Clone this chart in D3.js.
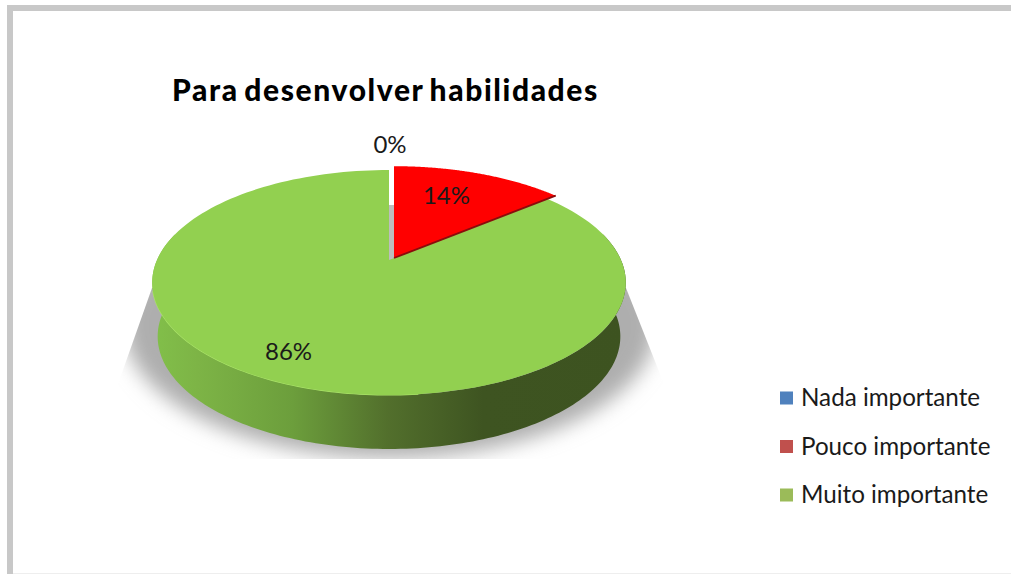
<!DOCTYPE html>
<html>
<head>
<meta charset="utf-8">
<style>
html,body{margin:0;padding:0;background:#fff;}
svg{display:block;}
text{font-family:Lato,"Open Sans",sans-serif;fill:#1a1a1a;}
</style>
<script src="https://cdn.jsdelivr.net/npm/d3@7/dist/d3.min.js"></script>
</head>
<body>
<svg id="chart" width="1011" height="574"></svg>
<script>
// Survey responses, in percent
const titleText = "Para desenvolver habilidades";
const categories = ["Nada importante", "Pouco importante", "Muito importante"];
const shares = [0, 14, 86];
const faceColors = ["#4F81BD", "#FF0000", "#92D050"];
const legendColors = ["#4F81BD", "#C0504D", "#9BBB59"];

const svg = d3.select("#chart");
const defs = svg.append("defs");

// Frame around the chart area
svg.append("rect").attr("x", 7).attr("y", 5).attr("width", 1004).attr("height", 6).attr("fill", "#c8c8c8");
svg.append("rect").attr("x", 7).attr("y", 5).attr("width", 6).attr("height", 569).attr("fill", "#c8c8c8");
svg.append("rect").attr("x", 13).attr("y", 573).attr("width", 998).attr("height", 1).attr("fill", "#eeeeee");

// Tilted disc: a perspective projection of the unit circle
const cx = 389, cy = 260, R = 232, K = 108, P = 0.2, depth = 54;
function project(angle, f = 1) {
  const u = Math.sin(angle) * f, v = -Math.cos(angle) * f, w = 1 - v * P;
  return [R * u / w, K * v / w];
}
const pie = d3.pie().value(d => d).sort(null);
const arcs = pie(shares);
const line = d3.line();

function sectorPoints(a0, a1, n = 160) {
  const step = (a1 - a0) / n;
  return d3.range(n + 1).map(i => project(a0 + i * step));
}

// Soft ground shadow, trimmed to the slanted wedge below the disc
defs.append("filter").attr("id", "soft")
  .attr("x", "-20%").attr("y", "-20%").attr("width", "140%").attr("height", "140%")
  .append("feGaussianBlur").attr("stdDeviation", 10);
defs.append("clipPath").attr("id", "shadowClip")
  .append("polygon").attr("points", "152,288 118,384 118,459 664,459 664,384 626,288");
svg.append("g").attr("clip-path", "url(#shadowClip)")
  .append("ellipse")
  .attr("cx", cx + 1).attr("cy", 326).attr("rx", 266).attr("ry", 132)
  .attr("fill", "#aeaeae").attr("filter", "url(#soft)");

// Shadow seen through the gap between the separated slices
svg.append("rect").attr("x", cx).attr("y", 205).attr("width", 6).attr("height", 56).attr("fill", "#bdbdbd");

// Outer wall of the disc, shaded from left to right
const wallGrad = defs.append("linearGradient").attr("id", "wall")
  .attr("gradientUnits", "userSpaceOnUse")
  .attr("x1", 150 - cx).attr("x2", 626 - cx).attr("y1", 0).attr("y2", 0);
[[0, "#82c04a"], [0.1, "#7db446"], [0.3, "#6c9e3c"], [0.5, "#526f2c"], [0.7, "#3e5421"], [1, "#3d5320"]]
  .forEach(([o, c]) => wallGrad.append("stop").attr("offset", o).attr("stop-color", c));

const rim = d3.range(0, 181).map(i => project(Math.PI / 2 - 0.25 + (Math.PI + 0.5) * i / 180));
const lowerRim = rim.map(([x, y]) => [x * 0.977, y + depth]).reverse();
const disc = svg.append("g").attr("transform", `translate(${cx},${cy})`);
disc.append("path").attr("d", line(rim.concat(lowerRim)) + "Z").attr("fill", "url(#wall)");

// Top faces; the smaller slice is pulled out of the disc
const slices = svg.append("g");
[2, 1].forEach(i => {
  const a = arcs[i];
  const pulled = i === 1;
  const g = slices.append("g")
    .attr("transform", pulled ? `translate(${cx + 5},${cy - 2}) scale(1.02)` : `translate(${cx},${cy})`);
  const pts = [[0, 0]].concat(sectorPoints(a.startAngle, a.endAngle));
  g.append("path").attr("d", line(pts) + "Z").attr("fill", faceColors[i]);
  if (pulled) {
    g.append("path").attr("d", line([[0, 0], project(a.endAngle)]))
      .attr("fill", "none").attr("stroke", "#8a0c0c").attr("stroke-width", 1.8);
  }
});

// Pale highlight along the front-left rim
const glow = rim.filter(([x, y]) => x < 30 && y > 30);
disc.append("path").attr("d", line(glow)).attr("fill", "none")
  .attr("stroke", "#aae468").attr("stroke-width", 1.2);

// Percentage labels
const labelReach = [1.36, 0.65, 0.83];
const labelShift = [[1, 0], [0, -7], [-4, -3]];
svg.append("g").selectAll("text").data(arcs).join("text")
  .attr("text-anchor", "middle")
  .attr("font-size", 24)
  .attr("transform", (d, i) => {
    const mid = (d.startAngle + d.endAngle) / 2;
    const [x, y] = project(mid, labelReach[i]);
    return `translate(${cx + labelShift[i][0] + x},${cy + labelShift[i][1] + y + 8})`;
  })
  .text(d => d.value + "%");

// Title
svg.append("text").attr("x", 172).attr("y", 101)
  .attr("font-size", 30).attr("font-weight", 900)
  .attr("letter-spacing", 1.6).attr("word-spacing", -3).style("fill", "#000")
  .text(titleText);

// Legend
const legendY = d3.scalePoint().domain(categories).range([398, 495]);
const legend = svg.append("g").selectAll("g").data(categories).join("g")
  .attr("transform", d => `translate(780,${legendY(d)})`);
legend.append("rect").attr("x", 0).attr("y", -6.5).attr("width", 13).attr("height", 13)
  .attr("fill", (d, i) => legendColors[i]);
legend.append("text").attr("x", 21).attr("y", 8).attr("font-size", 24.2).text(d => d);
</script>
</body>
</html>
